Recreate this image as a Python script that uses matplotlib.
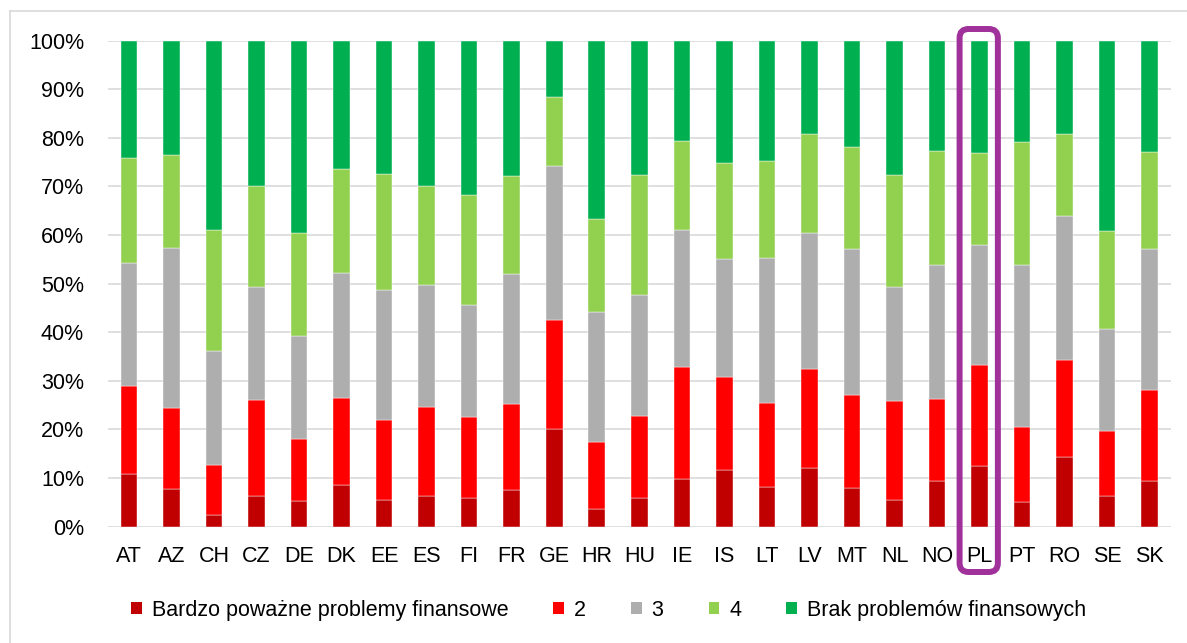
import numpy as np
from matplotlib import pyplot as plt
from matplotlib.patches import Patch, FancyBboxPatch
from matplotlib.lines import Line2D
from matplotlib.ticker import PercentFormatter
from matplotlib.transforms import IdentityTransform

countries = ["AT", "AZ", "CH", "CZ", "DE", "DK", "EE", "ES", "FI", "FR", "GE", "HR", "HU",
			 "IE", "IS", "LT", "LV", "MT", "NL", "NO", "PL", "PT", "RO", "SE", "SK"]

# shares (%) of each answer, bottom to top
very_serious = [10.8, 7.8, 2.5, 6.3, 5.2, 8.5, 5.4, 6.4, 6.0, 7.5, 20.0, 3.6, 6.0,
				9.8, 11.6, 8.1, 12.0, 8.0, 5.4, 9.3, 12.5, 5.1, 14.4, 6.4, 9.5]
level_2 = [18.1, 16.7, 10.2, 19.8, 12.9, 17.9, 16.6, 18.2, 16.5, 17.8, 22.6, 13.9, 16.8,
		   23.1, 19.1, 17.3, 20.4, 19.0, 20.5, 16.9, 20.8, 15.5, 19.8, 13.3, 18.6]
level_3 = [25.4, 32.8, 23.4, 23.2, 21.1, 25.7, 26.7, 25.2, 23.1, 26.7, 31.6, 26.6, 24.9,
		   28.1, 24.3, 29.8, 28.1, 30.1, 23.4, 27.7, 24.7, 33.3, 29.8, 20.9, 29.1]
level_4 = [21.6, 19.2, 24.9, 20.9, 21.2, 21.6, 23.8, 20.4, 22.7, 20.2, 14.3, 19.2, 24.6,
		   18.4, 19.8, 20.0, 20.4, 21.1, 23.1, 23.5, 18.8, 25.2, 16.7, 20.2, 19.8]
no_problems = [24.1, 23.5, 39.0, 29.8, 39.6, 26.3, 27.5, 29.8, 31.7, 27.8, 11.5, 36.7, 27.7,
			   20.6, 25.2, 24.8, 19.1, 21.8, 27.6, 22.6, 23.2, 20.9, 19.3, 39.2, 23.0]

series_labels = ["Bardzo poważne problemy finansowe", "2", "3", "4", "Brak problemów finansowych"]
highlight = "PL"


def main():
	plt.rcParams["font.family"] = ["Liberation Sans", "DejaVu Sans"]
	colors = ["#c00000", "#ff0000", "#aeaeae", "#92d050", "#00b050"]
	series = [very_serious, level_2, level_3, level_4, no_problems]

	fig = plt.figure(figsize=(11.87, 6.43), dpi=100)
	ax = fig.add_axes([0.0907, 0.1809, 0.8958, 0.7558])

	x = np.arange(len(countries))
	bottom = np.zeros(len(countries))
	for values, color, label in zip(series, colors, series_labels):
		values = np.array(values)
		ax.bar(x, values, 0.39, bottom=bottom, color=color, label=label,
			   edgecolor="white", linewidth=0.3, zorder=2)
		bottom += values

	ax.set_xlim(-0.5, len(countries) - 0.5)
	ax.set_ylim(0, 100)
	ax.set_yticks(np.arange(0, 101, 10))
	ax.yaxis.set_major_formatter(PercentFormatter(decimals=0))
	ax.set_xticks(x, countries)
	ax.tick_params(axis="y", length=0, pad=17, labelsize=15.5, colors="black")
	ax.tick_params(axis="x", length=0, pad=14, labelsize=15.5, colors="black")
	ax.grid(axis="y", color="#d9d9d9", linewidth=1.2, zorder=0)
	ax.set_axisbelow(True)
	for spine in ax.spines.values():
		spine.set_visible(False)

	# rounded frame around the highlighted country
	fig.canvas.draw()
	i = countries.index(highlight)
	x0, _ = ax.transData.transform((i - 0.47, 0))
	x1, _ = ax.transData.transform((i + 0.43, 0))
	y_top = fig.bbox.height - 29
	y_bot = fig.bbox.height - 572
	frame = FancyBboxPatch((x0, y_bot), x1 - x0, y_top - y_bot,
						   boxstyle="round,pad=0,rounding_size=9",
						   transform=IdentityTransform(), fill=False,
						   edgecolor="#a0309a", linewidth=4.3, zorder=5)
	fig.patches.append(frame)

	# chart area border (left and top visible)
	fig.add_artist(Line2D([10 / 1187, 10 / 1187], [0, 1 - 11 / 643],
						  transform=fig.transFigure, color="#d9d9d9", linewidth=1.2))
	fig.add_artist(Line2D([10 / 1187, 1], [1 - 11 / 643, 1 - 11 / 643],
						  transform=fig.transFigure, color="#d9d9d9", linewidth=1.2))

	handles = [Patch(facecolor=c, label=l) for c, l in zip(colors, series_labels)]
	fig.legend(handles=handles, loc="center", bbox_to_anchor=(0.5126, 0.0513), ncol=5,
			   frameon=False, fontsize=15.5, handlelength=0.5, handleheight=0.5,
			   handletextpad=0.45, columnspacing=2.1)

	fig.savefig("out.png", dpi=100)
	plt.close(fig)


if __name__ == "__main__":
	main()
